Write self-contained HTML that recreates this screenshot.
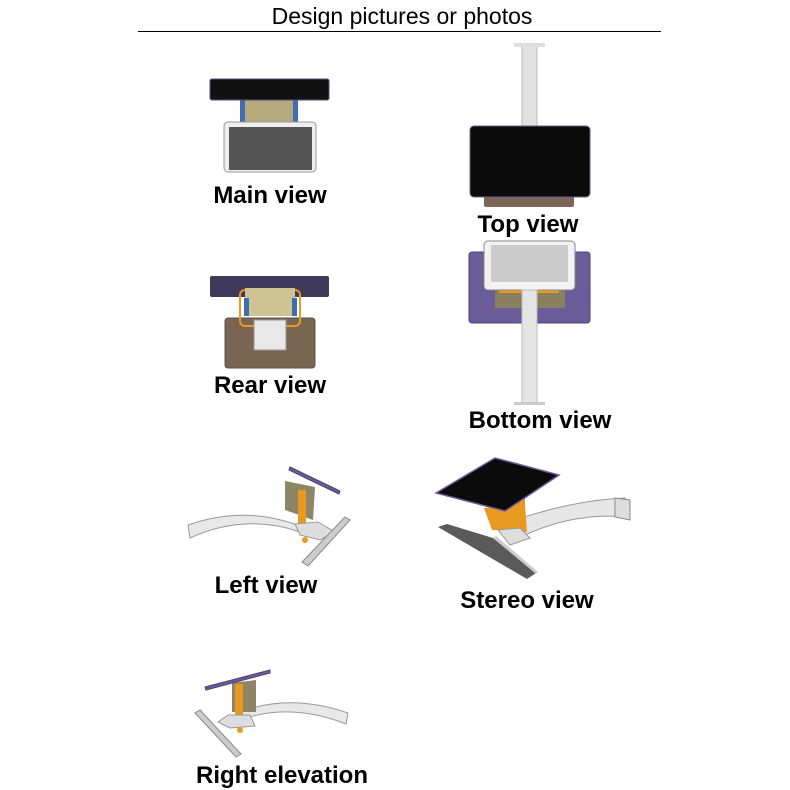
<!DOCTYPE html>
<html><head><style>
html,body{margin:0;padding:0;background:#fff;}
svg{display:block;}
text{font-family:"Liberation Sans",sans-serif;fill:#000;}
.l{font-size:24px;font-weight:600;}
</style></head><body>
<svg width="790" height="790" viewBox="0 0 790 790" xmlns="http://www.w3.org/2000/svg">
<text x="402" y="24" font-size="23" text-anchor="middle">Design pictures or photos</text>
<line x1="138" y1="31.5" x2="661" y2="31.5" stroke="#000" stroke-width="1"/>

<!-- Main view -->
<rect x="240" y="99" width="58" height="24" fill="#b6a97c"/>
<rect x="240" y="99" width="5" height="24" fill="#3d6fb0"/>
<rect x="293" y="99" width="5" height="24" fill="#3d6fb0"/>
<rect x="210" y="79" width="119" height="21" rx="2" fill="#111" stroke="#5a4f80" stroke-width="1"/>
<rect x="224" y="122" width="92" height="50" rx="4" fill="#eee" stroke="#999"/>
<rect x="229" y="127" width="83" height="43" fill="#555"/>
<text x="270" y="203" class="l" text-anchor="middle">Main view</text>

<!-- Top view -->
<rect x="522" y="44" width="15" height="83" fill="#e2e2e2" stroke="#bbb"/>
<rect x="514" y="43" width="31" height="4" fill="#ddd"/>
<rect x="484" y="195" width="90" height="12" rx="2" fill="#7b6655"/>
<rect x="470" y="126" width="120" height="71" rx="4" fill="#0b0b0b" stroke="#6a5f8a"/>
<text x="528" y="232" class="l" text-anchor="middle">Top view</text>

<!-- Bottom view -->
<rect x="469" y="252" width="121" height="71" rx="3" fill="#6a5c98" stroke="#4e4478"/>
<rect x="495" y="290" width="70" height="18" fill="#8a8060"/>
<rect x="499" y="290" width="60" height="3" fill="#e89a20"/>
<rect x="484" y="241" width="91" height="49" rx="4" fill="#f2f2f2" stroke="#888"/>
<rect x="491" y="245" width="77" height="37" fill="#ccc"/>
<rect x="522" y="290" width="15" height="113" fill="#e4e4e4" stroke="#bbb"/>
<rect x="514" y="402" width="31" height="3" fill="#ccc"/>
<text x="540" y="428" class="l" text-anchor="middle">Bottom view</text>

<!-- Rear view -->
<rect x="210" y="276" width="119" height="21" rx="2" fill="#3f3a5c"/>
<rect x="225" y="318" width="90" height="50" rx="3" fill="#7a6452" stroke="#555"/>
<rect x="240" y="290" width="60" height="36" rx="5" fill="none" stroke="#e89a20" stroke-width="2"/>
<rect x="245" y="288" width="50" height="28" fill="#cfc293"/>
<rect x="244" y="298" width="5" height="18" fill="#3d6fb0"/>
<rect x="292" y="298" width="5" height="18" fill="#3d6fb0"/>
<rect x="254" y="320" width="32" height="30" fill="#e8e8e8" stroke="#999"/>
<text x="270" y="393" class="l" text-anchor="middle">Rear view</text>

<!-- Left view -->
<path d="M188 525 Q245 505 300 526 L300 532 Q245 513 190 538 Z" fill="#e8e8e8" stroke="#999"/>
<polygon points="285,481 315,487 313,520 285,510" fill="#8d8565"/>
<rect x="298" y="490" width="8" height="34" fill="#e89a20"/>
<polygon points="290,467 340,491 339,494 289,470" fill="#6a5c98" stroke="#4a4070"/>
<polygon points="295,524 318,522 335,532 320,540 300,535" fill="#ddd" stroke="#999"/>
<circle cx="305" cy="540" r="3" fill="#e89a20"/>
<polygon points="345,517 350,520 308,566 302,562" fill="#ccc" stroke="#888"/>
<text x="266" y="593" class="l" text-anchor="middle">Left view</text>

<!-- Stereo view -->
<path d="M515 520 Q575 500 625 498 L628 517 Q575 512 525 535 Z" fill="#e6e6e6" stroke="#999"/>
<polygon points="615,498 630,500 630,520 615,517" fill="#ddd" stroke="#888"/>
<polygon points="484,508 525,505 527,532 492,530" fill="#e89a20"/>
<rect x="515" y="495" width="10" height="40" fill="#e89a20"/>
<polygon points="436,493 495,458 559,475 505,511" fill="#0b0b0b" stroke="#6a5c98" stroke-width="1.5"/>
<polygon points="498,530 520,528 530,538 510,545" fill="#ddd" stroke="#999"/>
<polygon points="438,527 447,524 493,538 536,573 527,579" fill="#5a5a5a"/>
<polygon points="493,538 496,536 538,572 536,574" fill="#ccc"/>
<text x="527" y="608" class="l" text-anchor="middle">Stereo view</text>

<!-- Right elevation -->
<path d="M348 713 Q290 693 240 712 L240 720 Q290 702 346 724 Z" fill="#e8e8e8" stroke="#999"/>
<polygon points="232,683 256,680 256,712 232,712" fill="#8d8565"/>
<rect x="235" y="684" width="8" height="35" fill="#e89a20"/>
<polygon points="205,687 270,670 270,673 206,690" fill="#6a5c98" stroke="#4a4070"/>
<polygon points="218,722 228,715 250,715 255,726 230,728" fill="#ddd" stroke="#999"/>
<circle cx="240" cy="730" r="3" fill="#e89a20"/>
<polygon points="195,713 200,710 241,754 236,757" fill="#ccc" stroke="#888"/>
<text x="282" y="783" class="l" text-anchor="middle">Right elevation</text>
</svg>
</body></html>
